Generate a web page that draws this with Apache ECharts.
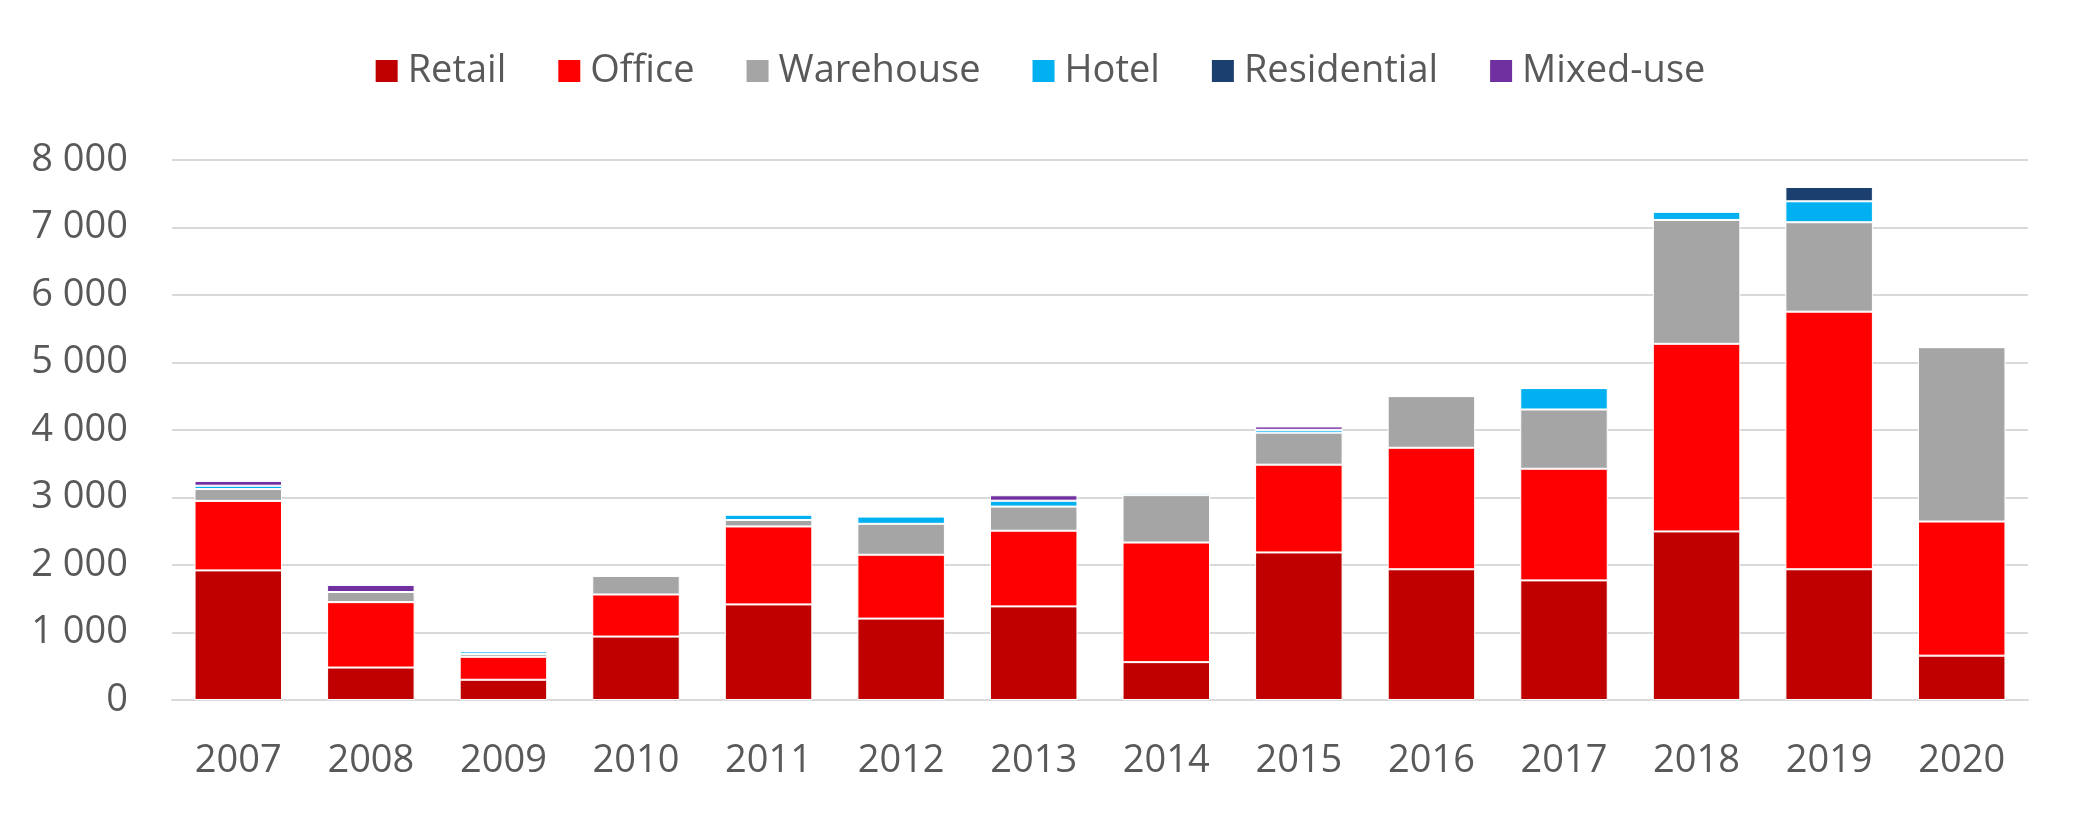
<!DOCTYPE html>
<html>
<head>
<meta charset="utf-8">
<script src="https://cdn.jsdelivr.net/npm/echarts@6/dist/echarts.min.js"></script>
<style>
html,body{margin:0;padding:0;background:#fff;}
#chart{width:2079px;height:815px;}
</style>
</head>
<body>
<div id="chart"></div>
<script>
const years = ['2007','2008','2009','2010','2011','2012','2013','2014','2015','2016','2017','2018','2019','2020'];
const retail      = [1920, 481, 300, 940, 1416, 1206, 1387, 561, 2186, 1937, 1772, 2497, 1937, 657];
const office      = [1030, 969, 340, 623, 1155, 946, 1121, 1772, 1300, 1800, 1654, 2780, 3816, 1987];
const warehouse   = [175, 150, 40, 277, 96, 458, 357, 702, 475, 765, 878, 1835, 1325, 2583];
const hotel       = [50, 0, 40, 0, 79, 108, 88, 34, 42, 0, 317, 122, 310, 0];
const residential = [0, 0, 0, 0, 0, 0, 0, 0, 0, 0, 0, 0, 212, 0];
const mixedUse    = [70, 105, 0, 0, 0, 0, 80, 0, 50, 0, 0, 0, 0, 0];

const seriesDefs = [
  ['Retail', retail, '#C00000'],
  ['Office', office, '#FF0000'],
  ['Warehouse', warehouse, '#A5A5A5'],
  ['Hotel', hotel, '#00B0F0'],
  ['Residential', residential, '#1B406F'],
  ['Mixed-use', mixedUse, '#7030A0']
];

const FONT = '"Open Sans", "Noto Sans", sans-serif';
const TXT = '#595959';
const FS = 38;

const chart = echarts.init(document.getElementById('chart'));
chart.setOption({
  animation: false,
  backgroundColor: '#fff',
  textStyle: { fontFamily: FONT },
  legend: {
    top: 47,
    left: 'center',
    itemWidth: 24,
    itemHeight: 24,
    itemGap: 50,
    icon: 'rect',
    textStyle: { fontSize: FS, color: TXT, fontFamily: FONT, padding: [0, 0, 0, 4] },
    data: seriesDefs.map(d => d[0])
  },
  grid: { left: 172, right: 51, top: 160, bottom: 115, containLabel: false },
  xAxis: {
    type: 'category',
    data: years,
    axisLine: { show: true, lineStyle: { color: '#D9D9D9', width: 2 } },
    axisTick: { show: false },
    axisLabel: { fontSize: FS, color: TXT, margin: 42, fontFamily: FONT }
  },
  yAxis: {
    type: 'value',
    min: 0, max: 8000, interval: 1000,
    axisLine: { show: false },
    axisTick: { show: false },
    splitLine: { lineStyle: { color: '#D9D9D9', width: 2 } },
    axisLabel: {
      fontSize: FS, color: TXT, margin: 44, fontFamily: FONT,
      formatter: v => String(v).replace(/\B(?=(\d{3})+(?!\d))/g, ' ')
    }
  },
  series: seriesDefs.map(d => ({
    name: d[0],
    type: 'bar',
    stack: 'total',
    data: d[1],
    barCategoryGap: '34%',
    itemStyle: { color: d[2], borderColor: '#fff', borderWidth: 1 }
  }))
});
</script>
</body>
</html>
